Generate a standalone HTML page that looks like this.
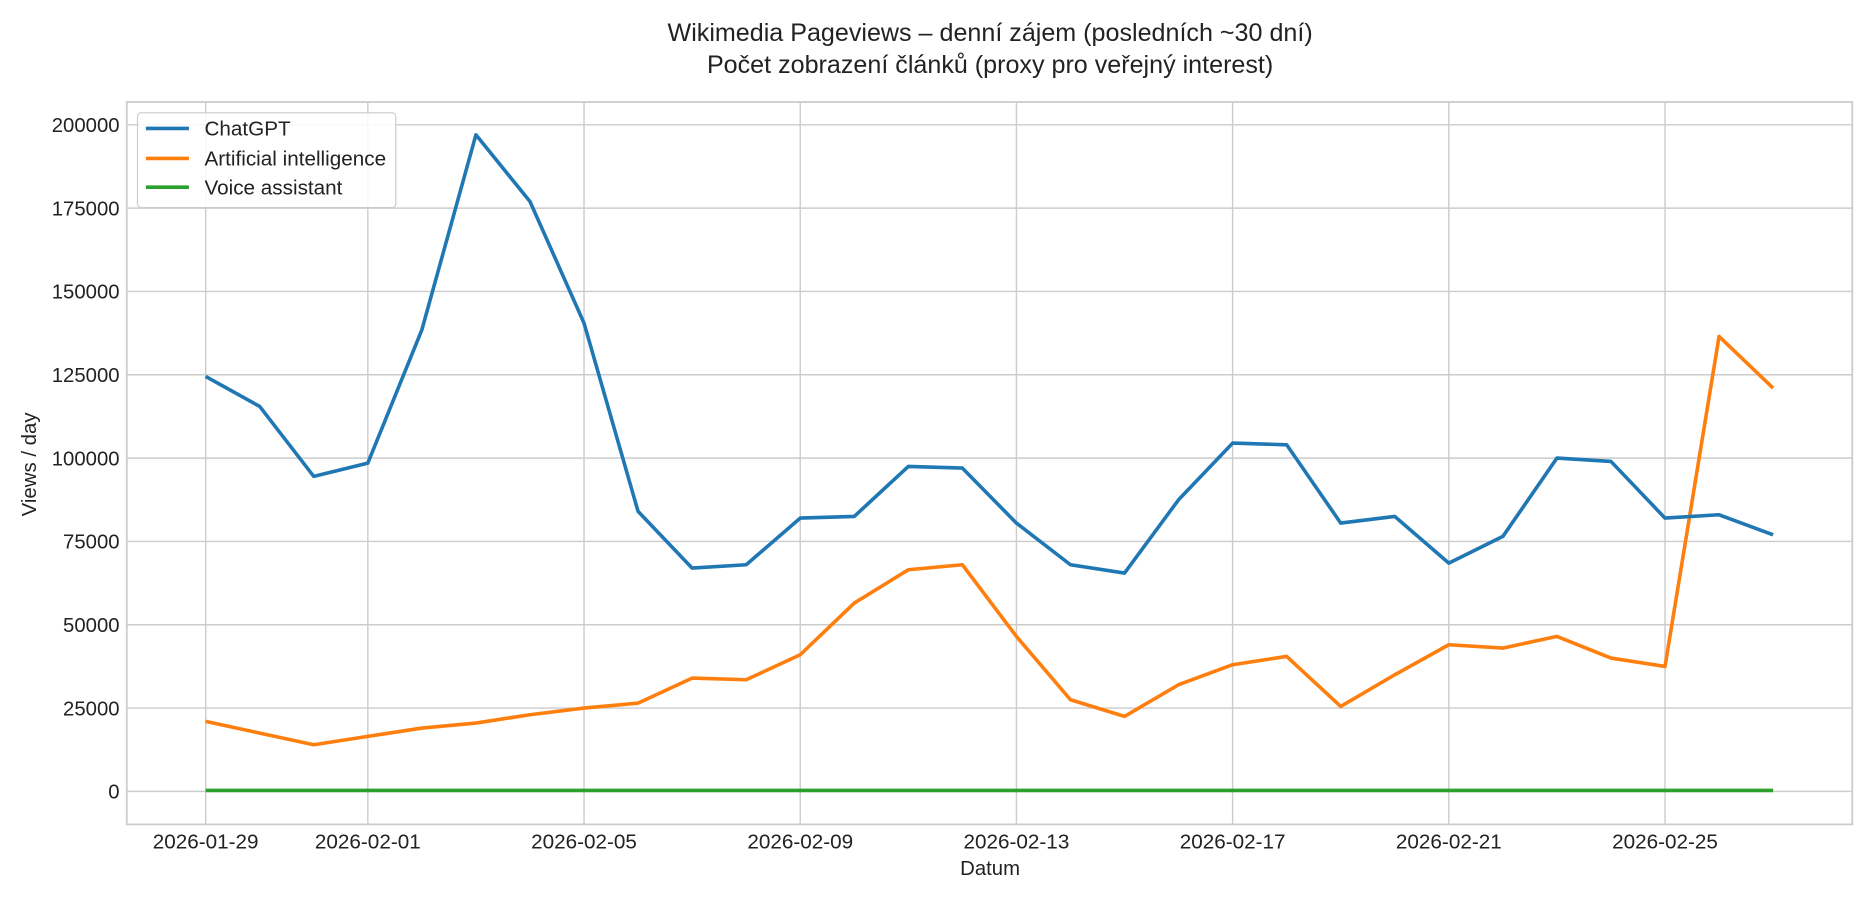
<!DOCTYPE html>
<html><head><meta charset="utf-8"><style>
html,body{margin:0;padding:0;background:#fff}
svg{display:block;font-family:"Liberation Sans","DejaVu Sans",sans-serif}
</style></head><body>
<svg id="chart" width="1875" height="900" viewBox="0 0 1568 750" preserveAspectRatio="none" xmlns="http://www.w3.org/2000/svg">
<text x="828" y="34" text-anchor="middle" font-size="21" fill="#222">Wikimedia Pageviews – denní zájem (posledních ~30 dní)</text>
<text x="828" y="61" text-anchor="middle" font-size="21" fill="#222">Počet zobrazení článků (proxy pro veřejný interest)</text>
<rect x="106" y="85" width="1443" height="602" fill="#fff" stroke="#ccc" stroke-width="1.5"/>
<g id="grid"></g><g id="series"></g><g id="ticks"></g>
<text x="828" y="729" text-anchor="middle" font-size="17" fill="#222">Datum</text>
<text transform="translate(30,387) rotate(-90)" text-anchor="middle" font-size="17" fill="#222">Views / day</text>
<g>
<rect x="115" y="94" width="216" height="79" rx="3" fill="#fff" fill-opacity="0.85" stroke="#ccc"/>
<line x1="122" y1="107" x2="158" y2="107" stroke="#1f77b4" stroke-width="3"/>
<text x="171" y="113" font-size="17.3" fill="#222">ChatGPT</text>
<line x1="122" y1="132" x2="158" y2="132" stroke="#ff7f0e" stroke-width="3"/>
<text x="171" y="138" font-size="17.3" fill="#222">Artificial intelligence</text>
<line x1="122" y1="156" x2="158" y2="156" stroke="#2ca02c" stroke-width="3"/>
<text x="171" y="162" font-size="17.3" fill="#222">Voice assistant</text>
</g>
</svg>
<script>
const startDate = "2026-01-29";
const chatgpt = [124500,115500,94500,98500,138500,197000,177000,140500,84000,67000,68000,82000,82500,97500,97000,80500,68000,65500,87500,104500,104000,80500,82500,68500,76500,100000,99000,82000,83000,77000];
const artificialIntelligence = [21000,17500,14000,16500,19000,20500,23000,25000,26500,34000,33500,41000,56500,66500,68000,46500,27500,22500,32000,38000,40500,25500,35000,44000,43000,46500,40000,37500,136500,121000];
const voiceAssistant = [300,300,300,300,300,300,300,300,300,300,300,300,300,300,300,300,300,300,300,300,300,300,300,300,300,300,300,300,300,300];
const yTicks = [0,25000,50000,75000,100000,125000,150000,175000,200000];
const xTickDays = [0,3,7,11,15,19,23,27];
const xTickLabels = ["2026-01-29","2026-02-01","2026-02-05","2026-02-09","2026-02-13","2026-02-17","2026-02-21","2026-02-25"];
const NS="http://www.w3.org/2000/svg";
const xS = d => 172 + d*45.2;
const yS = v => 659.5 - v*(555.5/200000);
function mk(tag, attrs, parent){const e=document.createElementNS(NS,tag);for(const k in attrs)e.setAttribute(k,attrs[k]);parent.appendChild(e);return e;}
const grid=document.getElementById('grid'), ticks=document.getElementById('ticks'), series=document.getElementById('series');
yTicks.forEach(v=>{
  const l=mk('line',{x1:106,x2:1549,y1:yS(v),y2:yS(v),stroke:'#ccc','stroke-width':1.2},grid);
  
  
  const t=mk('text',{x:100,y:yS(v)+6,'text-anchor':'end','font-size':17,fill:'#222'},ticks);
  t.textContent=v;
  
  
});
xTickDays.forEach((d,i)=>{
  const l=mk('line',{x1:xS(d),x2:xS(d),y1:85,y2:687,stroke:'#ccc','stroke-width':1.2},grid);
  
  
  const t=mk('text',{x:xS(d),y:707,'text-anchor':'middle','font-size':17.3,fill:'#222'},ticks);
  t.textContent=xTickLabels[i];
  
  
});
[[voiceAssistant,'#2ca02c','line-voice-assistant'],[artificialIntelligence,'#ff7f0e','line-artificial-intelligence'],[chatgpt,'#1f77b4','line-chatgpt']].forEach(([arr,c,n])=>{
  const p=mk('polyline',{points:arr.map((v,i)=>xS(i)+','+yS(v)).join(' '),fill:'none',stroke:c,'stroke-width':3,'stroke-linejoin':'round'},series);
  
  
});
</script>
</body></html>
